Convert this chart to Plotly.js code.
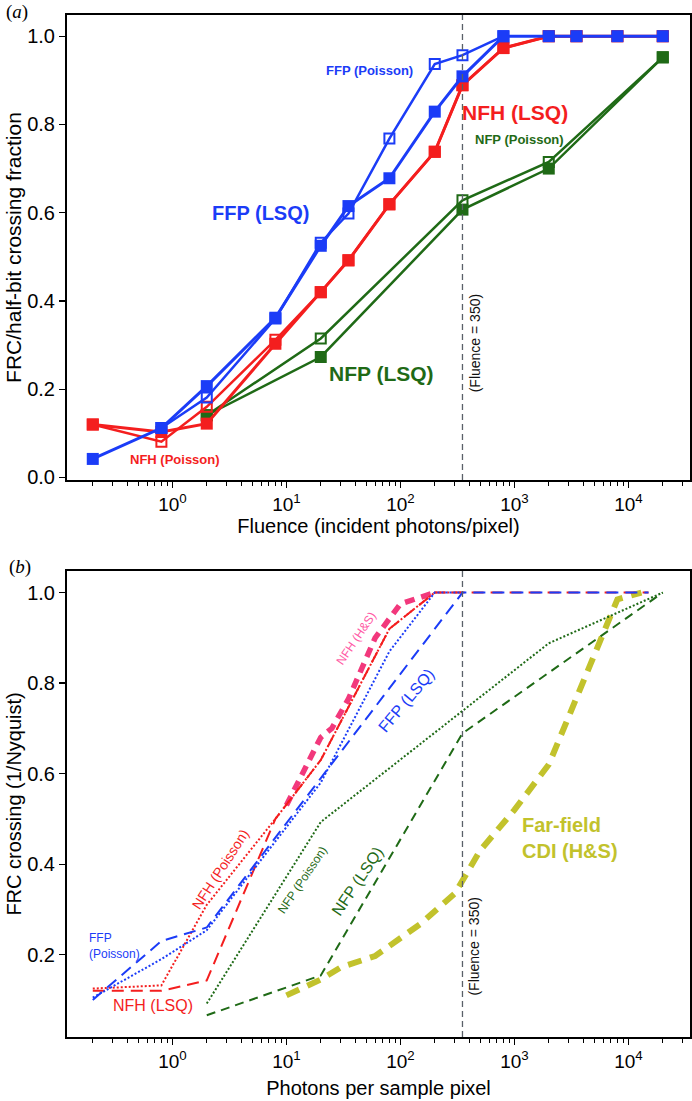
<!DOCTYPE html>
<html><head><meta charset="utf-8">
<script src="https://cdn.plot.ly/plotly-3.0.1.min.js"></script>
<style>html,body{margin:0;padding:0;background:#fff}#chart{width:692px;height:1101px}</style>
</head><body><div id="chart"></div>
<script>
// ---------- Panel (a) data ----------
const A_X_FULL = [0.2, 0.8, 2, 8, 20, 35, 80, 200, 350, 800, 2000, 3500, 8000, 20000];
const A_FFP_LSQ = [0.042, 0.112, 0.207, 0.362, 0.525, 0.615, 0.678, 0.829, 0.909, 1.0, 1.0, 1.0, 1.0, 1.0];
const A_X_FFP_POI = [0.8, 2, 8, 20, 35, 80, 200, 350, 800];
const A_FFP_POI = [0.112, 0.181, 0.36, 0.532, 0.598, 0.768, 0.937, 0.957, 1.0];
const A_NFH_LSQ = [0.12, 0.103, 0.122, 0.303, 0.42, 0.492, 0.619, 0.738, 0.889, 0.973, 1.0, 1.0, 1.0, 1.0];
const A_NFH_POI = [0.12, 0.081, 0.16, 0.312, 0.42, 0.492, 0.619, 0.738, 0.889, 0.973, 1.0, 1.0, 1.0, 1.0];
const A_X_NFP = [2, 20, 350, 2000, 20000];
const A_NFP_LSQ = [0.141, 0.273, 0.607, 0.70, 0.952];
const A_NFP_POI = [0.141, 0.315, 0.628, 0.715, 0.952];

// ---------- Panel (b) data ----------
const B_X_FFP_LSQ = [0.2, 0.8, 2, 20, 350, 15000];
const B_FFP_LSQ = [0.10, 0.23, 0.26, 0.59, 1.0, 1.0];
const B_X_FFP_POI = [0.2, 0.8, 2, 20, 80, 200, 350];
const B_FFP_POI = [0.105, 0.19, 0.254, 0.58, 0.87, 1.0, 1.0];
const B_X_NFH_LSQ = [0.2, 0.8, 2, 8, 20, 80, 200, 15000];
const B_NFH_LSQ = [0.12, 0.12, 0.143, 0.50, 0.63, 0.92, 1.0, 1.0];
const B_X_NFH_POI = [0.2, 0.8, 2, 8, 20, 80, 200, 350];
const B_NFH_POI = [0.125, 0.132, 0.31, 0.50, 0.63, 0.92, 1.0, 1.0];
const B_X_NFP_POI = [2, 20, 2000, 20000];
const B_NFP_POI = [0.092, 0.493, 0.888, 1.0];
const B_X_NFP_LSQ = [2, 20, 350, 20000];
const B_NFP_LSQ = [0.066, 0.154, 0.689, 1.0];
const B_X_NFH_HS = [10, 20, 25, 35, 60, 100, 200];
const B_NFH_HS = [0.53, 0.68, 0.70, 0.765, 0.90, 0.975, 1.0];
const B_X_FF_HS = [10, 20, 30, 60, 150, 300, 500, 1000, 2000, 8000, 13000];
const B_FF_HS = [0.11, 0.145, 0.172, 0.197, 0.268, 0.335, 0.43, 0.52, 0.62, 0.985, 1.0];

const FLUENCE_MARK = 350;
const X_TICKS = [1, 10, 100, 1000, 10000];
const X_TICKTEXT = ['10<sup>0</sup>', '10<sup>1</sup>', '10<sup>2</sup>', '10<sup>3</sup>', '10<sup>4</sup>'];
const Y_TICKS_A = [0, 0.2, 0.4, 0.6, 0.8, 1.0];
const Y_TICKS_B = [0.2, 0.4, 0.6, 0.8, 1.0];

const BLUE = '#1b3cf7', RED = '#f41e1e', GREEN = '#1f6a16', GOLD = '#c2c22c', PINK = '#f2387c', PINKTXT = '#ff5aa5';
const FONT = '"Liberation Sans", Arial, Helvetica, sans-serif';

const minorVals = [];
for (let e = -1; e <= 4; e++) for (let m = 2; m <= 9; m++) minorVals.push(m * Math.pow(10, e));

const traces = [];
function mk(x, y, color, opts, xa, ya) {
  const t = {x: x, y: y, type: 'scatter', xaxis: xa, yaxis: ya,
    line: {color: color, width: opts.width || 3, dash: opts.dash || 'solid'},
    mode: opts.mode || 'lines', hoverinfo: 'skip', showlegend: false, cliponaxis: false};
  if (opts.marker) t.marker = opts.marker;
  traces.push(t);
}
const openM = c => ({symbol: 'square-open', size: 10, color: c, line: {width: 2, color: c}});
const fillM = c => ({symbol: 'square', size: 12, color: c});

// panel a
mk(A_X_NFP, A_NFP_POI, GREEN, {mode: 'lines+markers', marker: openM(GREEN), width: 2.5}, 'x', 'y');
mk(A_X_NFP, A_NFP_LSQ, GREEN, {mode: 'lines+markers', marker: fillM(GREEN), width: 2.5}, 'x', 'y');
mk(A_X_FULL, A_NFH_POI, RED, {mode: 'lines+markers', marker: openM(RED), width: 2.5}, 'x', 'y');
mk(A_X_FULL, A_NFH_LSQ, RED, {mode: 'lines+markers', marker: fillM(RED), width: 3}, 'x', 'y');
mk(A_X_FFP_POI, A_FFP_POI, BLUE, {mode: 'lines+markers', marker: openM(BLUE), width: 2.5}, 'x', 'y');
mk(A_X_FULL, A_FFP_LSQ, BLUE, {mode: 'lines+markers', marker: fillM(BLUE), width: 3}, 'x', 'y');

// panel b
mk(B_X_FF_HS, B_FF_HS, GOLD, {width: 6, dash: '14px,9px'}, 'x2', 'y2');
mk(B_X_NFP_POI, B_NFP_POI, GREEN, {width: 2, dash: '2px,2px'}, 'x2', 'y2');
mk(B_X_NFP_LSQ, B_NFP_LSQ, GREEN, {width: 2, dash: '9px,6px'}, 'x2', 'y2');
mk(B_X_NFH_HS, B_NFH_HS, PINK, {width: 5.5, dash: '10px,7px'}, 'x2', 'y2');
mk(B_X_NFH_POI, B_NFH_POI, RED, {width: 2, dash: '2px,2px'}, 'x2', 'y2');
mk(B_X_NFH_LSQ, B_NFH_LSQ, RED, {width: 2, dash: '12px,7px'}, 'x2', 'y2');
mk(B_X_FFP_POI, B_FFP_POI, BLUE, {width: 2, dash: '2px,2px'}, 'x2', 'y2');
mk(B_X_FFP_LSQ, B_FFP_LSQ, BLUE, {width: 2, dash: '12px,7px'}, 'x2', 'y2');

function xax(title, anchor, standoff) {
  return {type: 'log', range: [-0.925, 4.54], anchor: anchor, domain: [0, 1],
    tickmode: 'array', tickvals: X_TICKS, ticktext: X_TICKTEXT,
    ticks: 'outside', ticklen: 6, tickwidth: 1.2, tickcolor: '#000',
    minor: {tickmode: 'array', tickvals: minorVals, ticks: 'outside', ticklen: 4, tickwidth: 1, tickcolor: '#000', showgrid: false},
    showline: true, linewidth: 2, linecolor: '#000', mirror: true, showgrid: false, zeroline: false,
    tickfont: {family: FONT, size: 19, color: '#000'},
    title: {text: title, font: {family: FONT, size: 20, color: '#000'}, standoff: standoff}};
}
function yax(title, domain, range, ticks, anchor, tsize) {
  return {domain: domain, range: range, anchor: anchor, tickmode: 'array', tickvals: ticks, tickformat: '.1f',
    ticks: 'outside', ticklen: 6, tickwidth: 1.2, tickcolor: '#000',
    showline: true, linewidth: 2, linecolor: '#000', mirror: true, showgrid: false, zeroline: false,
    tickfont: {family: FONT, size: 20, color: '#000'},
    title: {text: title, font: {family: FONT, size: tsize, color: '#000'}, standoff: 0}};
}

function ann(xa, ya, lx, y, text, color, size, bold, angle, extra) {
  return Object.assign({xref: xa, yref: ya, x: lx, y: y, text: bold ? '<b>' + text + '</b>' : text,
    showarrow: false, textangle: angle || 0,
    font: {family: FONT, size: size, color: color}}, extra || {});
}

const annotations = [
  ann('x', 'y', 1.732, 0.923, 'FFP (Poisson)', BLUE, 13, true),
  ann('x', 'y', 0.776, 0.599, 'FFP (LSQ)', BLUE, 20, true),
  ann('x', 'y', 3.004, 0.826, 'NFH (LSQ)', RED, 21, true),
  ann('x', 'y', 3.048, 0.767, 'NFP (Poisson)', GREEN, 13, true),
  ann('x', 'y', 1.83, 0.236, 'NFP (LSQ)', GREEN, 21, true),
  ann('x', 'y', 0.022, 0.041, 'NFH (Poisson)', RED, 13, true),
  ann('x', 'y', 2.654, 0.304, '(Fluence = 350)', '#111', 14, false, -90),
  ann('x2', 'y2', 1.616, 0.899, 'NFH (H&S)', PINKTXT, 12, false, -56),
  ann('x2', 'y2', 2.052, 0.761, 'FFP (LSQ)', BLUE, 16, false, -50),
  ann('x2', 'y2', -0.75, 0.22, 'FFP<br>(Poisson)', BLUE, 12, false, 0, {xanchor: 'left', align: 'left'}),
  ann('x2', 'y2', -0.17, 0.088, 'NFH (LSQ)', RED, 16, false),
  ann('x2', 'y2', 0.42, 0.39, 'NFH (Poisson)', RED, 14, false, -57),
  ann('x2', 'y2', 1.142, 0.364, 'NFP (Poisson)', GREEN, 12, false, -56),
  ann('x2', 'y2', 1.62, 0.362, 'NFP (LSQ)', GREEN, 16, false, -56),
  ann('x2', 'y2', 3.05, 0.457, 'Far-field<br>CDI (H&S)', GOLD, 20, true, 0, {xanchor: 'left', align: 'left'}),
  ann('x2', 'y2', 2.642, 0.217, '(Fluence = 350)', '#111', 14, false, -90),
  {xref: 'paper', yref: 'paper', x: -0.080, y: 1.003, xanchor: 'center', yanchor: 'middle', text: '(<i>a</i>)', showarrow: false,
    font: {family: '"Liberation Serif", "Times New Roman", serif', size: 19, color: '#000'}},
  {xref: 'paper', yref: 'paper', x: -0.0754, y: 0.4597, xanchor: 'center', yanchor: 'middle', text: '(<i>b</i>)', showarrow: false,
    font: {family: '"Liberation Serif", "Times New Roman", serif', size: 19, color: '#000'}}
];

const shapes = [
  {type: 'line', xref: 'x', yref: 'y domain', x0: FLUENCE_MARK, x1: FLUENCE_MARK, y0: 0, y1: 1,
    line: {color: '#5a6068', width: 1.3, dash: '6px,4px'}},
  {type: 'line', xref: 'x2', yref: 'y2 domain', x0: FLUENCE_MARK, x1: FLUENCE_MARK, y0: 0, y1: 1,
    line: {color: '#5a6068', width: 1.3, dash: '6px,4px'}}
];

const layout = {
  width: 692, height: 1101,
  margin: {l: 67, r: 2, t: 15, b: 64},
  paper_bgcolor: '#fff', plot_bgcolor: '#fff',
  showlegend: false,
  font: {family: FONT, color: '#000'},
  xaxis: xax('Fluence (incident photons/pixel)', 'y', 2),
  yaxis: yax('FRC/half-bit crossing fraction', [0.5449, 1], [-0.006, 1.048], Y_TICKS_A, 'x', 21),
  xaxis2: xax('Photons per sample pixel', 'y2', 10),
  yaxis2: yax('FRC crossing (1/Nyquist)', [0, 0.4561], [0.018, 1.048], Y_TICKS_B, 'x2', 20),
  annotations: annotations,
  shapes: shapes
};

Plotly.newPlot('chart', traces, layout, {displayModeBar: false, staticPlot: true});
</script></body></html>
